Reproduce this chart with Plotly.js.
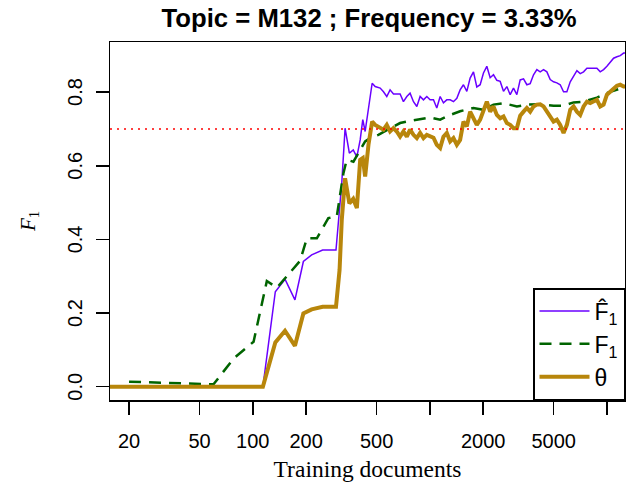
<!DOCTYPE html>
<html>
<head>
<meta charset="utf-8">
<script src="https://cdn.plot.ly/plotly-3.0.1.min.js"></script>
<style>html,body{margin:0;padding:0;background:#fff;}#chart{width:626px;height:482px;}</style>
</head>
<body>
<div id="chart"></div>
<script>
// Training documents (x) shared by the F1-hat and theta series
const nDocs = [15, 114, 134, 152, 173, 193, 215, 248, 295, 309, 318, 332, 351, 369, 387, 404, 418, 431, 450, 472,
  491, 524, 547, 571, 596, 623, 650, 679, 709, 741, 773, 808, 844, 881, 920, 961, 1003, 1048, 1094, 1143,
  1193, 1246, 1302, 1359, 1420, 1482, 1548, 1617, 1688, 1763, 1841, 1923, 2008, 2097, 2190, 2287, 2389, 2495, 2605, 2721,
  2841, 2967, 3099, 3236, 3380, 3530, 3686, 3850, 4020, 4198, 4385, 4579, 4782, 4994, 5215, 5447, 5688, 5940, 6204, 6479,
  6766, 7066, 7379, 7706, 8048, 8404, 8777, 9166, 9573, 9997, 10440, 10903, 11386, 11891, 12418, 12900];
// Estimated F1 (F-hat 1)
const f1Hat = [0, 0, 0.258, 0.292, 0.236, 0.340, 0.358, 0.371, 0.371, 0.471, 0.553, 0.702, 0.634, 0.643, 0.624, 0.670, 0.725, 0.693, 0.752, 0.824,
  0.815, 0.811, 0.801, 0.788, 0.806, 0.795, 0.795, 0.795, 0.774, 0.788, 0.797, 0.774, 0.761, 0.788, 0.779, 0.788, 0.779, 0.779, 0.757, 0.788,
  0.771, 0.779, 0.779, 0.774, 0.783, 0.806, 0.820, 0.802, 0.838, 0.855, 0.814, 0.820, 0.852, 0.870, 0.839, 0.847, 0.832, 0.829, 0.802, 0.815,
  0.793, 0.811, 0.793, 0.833, 0.836, 0.820, 0.823, 0.847, 0.861, 0.855, 0.861, 0.855, 0.834, 0.828, 0.825, 0.820, 0.801, 0.801, 0.828, 0.844,
  0.858, 0.850, 0.855, 0.865, 0.865, 0.865, 0.865, 0.855, 0.861, 0.870, 0.880, 0.892, 0.896, 0.899, 0.906, 0.906];
// theta
const theta = [0, 0, 0.120, 0.152, 0.111, 0.199, 0.210, 0.217, 0.217, 0.317, 0.453, 0.566, 0.498, 0.510, 0.485, 0.616, 0.621, 0.571, 0.657, 0.720,
  0.711, 0.704, 0.698, 0.711, 0.693, 0.702, 0.693, 0.679, 0.693, 0.679, 0.698, 0.684, 0.675, 0.689, 0.675, 0.684, 0.679, 0.676, 0.657, 0.648,
  0.679, 0.689, 0.666, 0.675, 0.657, 0.670, 0.720, 0.707, 0.747, 0.729, 0.711, 0.725, 0.752, 0.774, 0.747, 0.761, 0.738, 0.729, 0.734, 0.716,
  0.711, 0.702, 0.702, 0.736, 0.747, 0.757, 0.747, 0.761, 0.766, 0.767, 0.761, 0.747, 0.734, 0.720, 0.725, 0.711, 0.689, 0.711, 0.752, 0.761,
  0.747, 0.738, 0.761, 0.774, 0.770, 0.774, 0.779, 0.761, 0.766, 0.793, 0.802, 0.811, 0.817, 0.820, 0.815, 0.815];
// True F1 series (its own x grid)
const nDocsF1 = [20, 30, 40, 50, 60, 78, 101, 120, 137, 185, 202, 230, 267, 298, 325, 339, 370, 431, 470, 512,
  596, 679, 773, 881, 1003, 1143, 1302, 1482, 1763, 2008, 2287, 2605, 3099, 3530, 4198, 4994, 5688, 6479, 7379, 8777,
  10440, 12418, 12900];
const f1 = [0.0136, 0.011, 0.009, 0.0075, 0.0065, 0.077, 0.122, 0.287, 0.269, 0.342, 0.403, 0.403, 0.458, 0.462, 0.580, 0.616, 0.611, 0.666, 0.678, 0.684,
  0.702, 0.716, 0.722, 0.727, 0.731, 0.725, 0.738, 0.748, 0.757, 0.752, 0.766, 0.770, 0.761, 0.766, 0.767, 0.763, 0.763, 0.772, 0.774, 0.785,
  0.801, 0.812, 0.812];
const threshold = 0.7;
const xTickVals = [20, 50, 100, 200, 500, 2000, 5000];
const xTickText = ['20', '50', '100', '200', '500', '2000', '5000'];
const xUnlabelledTicks = [1000, 10000];
const yTickVals = [0, 0.2, 0.4, 0.6, 0.8];
const yTickText = ['0.0', '0.2', '0.4', '0.6', '0.8'];
const seriesNames = ['F\u0302<sub>1</sub>', 'F<sub>1</sub>', '\u03b8'];

const SANS = 'Liberation Sans, Arial, Helvetica, sans-serif';
const SERIF = 'Liberation Serif, Times New Roman, serif';

const traces = [
  {x: nDocs, y: f1Hat, name: seriesNames[0], type: 'scatter', mode: 'lines',
   line: {color: '#6a00ff', width: 1.5}},
  {x: nDocsF1, y: f1, name: seriesNames[1], type: 'scatter', mode: 'lines',
   line: {color: '#006400', width: 2.5, dash: '12px,8px'}},
  {x: nDocs, y: theta, name: seriesNames[2], type: 'scatter', mode: 'lines',
   line: {color: '#b8860b', width: 4}}
];

const axisCommon = {
  ticks: 'outside', ticklen: 13, tickwidth: 1.5, tickcolor: 'black',
  showline: true, mirror: true, linecolor: 'black', linewidth: 1.5,
  showgrid: false, zeroline: false,
  tickfont: {family: SANS, size: 20, color: 'black'}
};

const layout = {
  width: 626, height: 482,
  margin: {l: 110, r: 1, t: 42, b: 82, pad: 0},
  paper_bgcolor: 'white', plot_bgcolor: 'white',
  showlegend: true,
  title: {text: 'Topic = M132 ; Frequency = 3.33%',
    font: {family: SANS, size: 25.7, color: 'black', weight: 'bold'},
    x: 0.503, xref: 'paper', xanchor: 'center', y: 0.963, yref: 'container', yanchor: 'middle'},
  xaxis: Object.assign({}, axisCommon, {
    type: 'log', range: [1.1935, 4.102],
    tickmode: 'array', tickvals: xTickVals, ticktext: xTickText,
    minor: {tickmode: 'array', tickvals: xUnlabelledTicks, ticks: 'outside', ticklen: 13, tickwidth: 1.5, tickcolor: 'black', showgrid: false},
    ticklabelstandoff: 9,
    title: {text: 'Training documents', font: {family: SERIF, size: 23.5, color: 'black'}, standoff: 15}
  }),
  yaxis: Object.assign({}, axisCommon, {
    range: [-0.036, 0.936],
    tickmode: 'array', tickvals: yTickVals, ticktext: yTickText,
    tickangle: -90, ticklabelstandoff: 6, ticklabelshift: 3,
    title: {text: '<i>F</i><sub>1</sub>', font: {family: SERIF, size: 21, color: 'black'}, standoff: 22}
  }),
  legend: {x: 1, xanchor: 'right', y: 0, yanchor: 'bottom', xref: 'paper', yref: 'paper',
    bgcolor: 'white', bordercolor: 'black', borderwidth: 1.5,
    font: {family: SANS, size: 23, color: 'black'}, itemwidth: 50, tracegroupgap: 0},
  shapes: [
    {type: 'line', xref: 'paper', x0: 0, x1: 1, yref: 'y', y0: threshold, y1: threshold,
     line: {color: 'red', width: 1.5, dash: '2px,5px'}, layer: 'above'}
  ]
};

Plotly.newPlot('chart', traces, layout, {displayModeBar: false, staticPlot: true});
</script>
</body>
</html>
